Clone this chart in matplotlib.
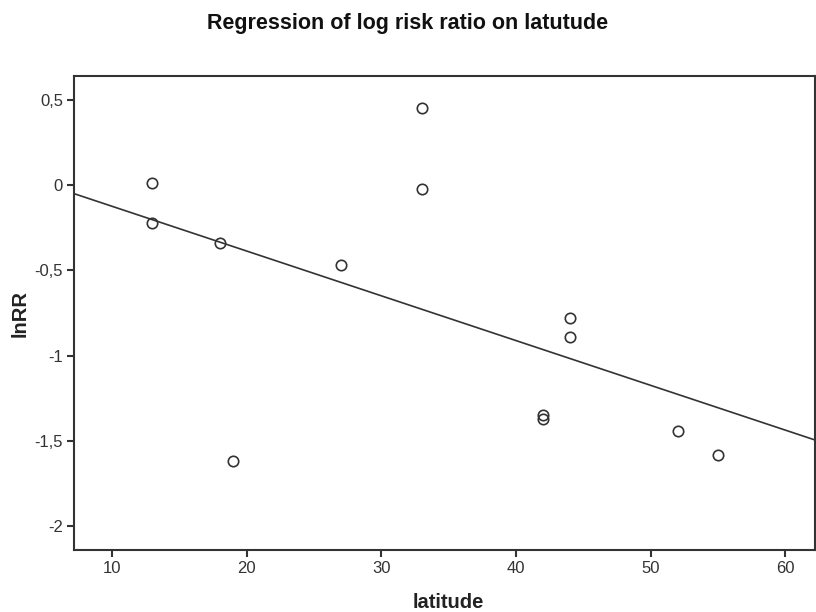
import numpy as np
import matplotlib
matplotlib.use("Agg")
import matplotlib.pyplot as plt
from matplotlib.ticker import FuncFormatter

# data
latitude = [13, 13, 18, 19, 27, 33, 33, 42, 42, 44, 44, 52, 55]
ln_rr = [0.01, -0.22, -0.34, -1.62, -0.47, 0.45, -0.02, -1.35, -1.37, -0.78, -0.89, -1.44, -1.58]

x_ticks = [10, 20, 30, 40, 50, 60]
y_ticks = [0.5, 0, -0.5, -1, -1.5, -2]

plt.rcParams['font.family'] = ['Liberation Sans', 'DejaVu Sans']

fig = plt.figure(figsize=(8.16, 6.12), dpi=100)
ax = fig.add_axes([0.0907, 0.1013, 0.908, 0.7745])

ax.plot(latitude, ln_rr, linestyle='none', marker='o', markersize=7.5,
        markerfacecolor='none', markeredgecolor='#333333', markeredgewidth=1.2)

# linear regression fit
slope, intercept = np.polyfit(latitude, ln_rr, 1)
xs = np.array([7.18, 62.2])
ax.plot(xs, intercept + slope * xs, color='#333333', linewidth=1.2)

ax.set_xlim(7.18, 62.2)
ax.set_ylim(-2.14, 0.64)
ax.set_xticks(x_ticks)
ax.set_yticks(y_ticks)

def comma(v, pos):
    s = ('%g' % v).replace('.', ',')
    return s

ax.yaxis.set_major_formatter(FuncFormatter(comma))
ax.xaxis.set_major_formatter(FuncFormatter(comma))
ax.tick_params(direction='out', length=5, width=1.5, color='#333333',
               labelsize=12, labelcolor='#333333', pad=3)
for sp in ax.spines.values():
    sp.set_color('#333333')
    sp.set_linewidth(1.5)

ax.set_xlabel('latitude', fontsize=14.5, fontweight='bold', color='#222222')
ax.set_ylabel('lnRR', fontsize=14.5, fontweight='bold', color='#222222')
ax.xaxis.set_label_coords(0.505, -0.11)
ax.yaxis.set_label_coords(-0.073, 0.5)
ax.xaxis.label.set_va('center')
ax.yaxis.label.set_va('center')
fig.text(0.5, 0.962, 'Regression of log risk ratio on latutude', ha='center', va='center',
         fontsize=15.5, fontweight='bold', color='#111111')

fig.savefig('out.png', dpi=100)
